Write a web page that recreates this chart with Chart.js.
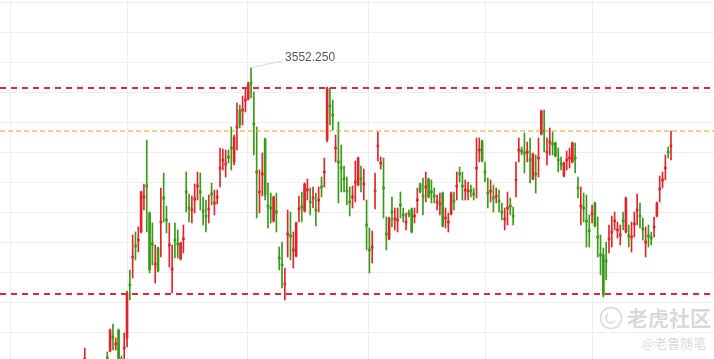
<!DOCTYPE html>
<html>
<head>
<meta charset="utf-8">
<script src="https://cdn.jsdelivr.net/npm/chart.js@4.4.0/dist/chart.umd.min.js"></script>
<style>
  html, body { margin: 0; padding: 0; background: #fff; }
  #kline { display: block; }
</style>
</head>
<body>
<canvas id="kline" width="714" height="359"></canvas>
<script>
// candle values, first candle is number -8, then 7 candles hidden below the view
var opens = [3260, null, null, null, null, null, null, null,
  3263, 3269, 3284, 3275, 3290, 3261, 3271, 3282, 3336, 3362,
  3375, 3379, 3388, 3422, 3435, 3407, 3377, 3355, 3372, 3397,
  3423, 3401, 3374, 3350, 3381, 3377, 3361, 3380, 3429, 3413,
  3409, 3420, 3433, 3429, 3410, 3405, 3410, 3427, 3416, 3422,
  3451, 3459, 3455, 3464, 3473, 3458, 3492, 3510, 3509, 3519,
  3521, 3538, 3497, 3449, 3427, 3445, 3481, 3415, 3413, 3399,
  3409, 3363, 3356, 3335, 3385, 3385, 3369, 3364, 3410, 3414,
  3409, 3429, 3419, 3421, 3411, 3419, 3434, 3447, 3480, 3515,
  3506, 3471, 3459, 3453, 3442, 3430, 3419, 3422, 3437, 3435,
  3442, 3435, 3396, 3371, 3372, 3428, 3473, 3456, 3433, 3387,
  3381, 3409, 3400, 3399, 3416, 3406, 3397, 3407, 3411, 3403,
  3419, 3436, 3425, 3432, 3441, 3429, 3425, 3417, 3415, 3427,
  3401, 3397, 3406, 3420, 3433, 3447, 3435, 3429, 3428, 3430,
  3427, 3451, 3469, 3479, 3449, 3428, 3428, 3423, 3423, 3420,
  3409, 3400, 3411, 3415, 3405, 3439, 3469, 3470, 3468, 3467,
  3461, 3441, 3447, 3461, 3486, 3490, 3467, 3477, 3477, 3477,
  3461, 3457, 3444, 3459, 3461, 3458, 3463, 3433, 3413, 3413,
  3400, 3390, 3405, 3417, 3384, 3366, 3365, 3360, 3380, 3387,
  3398, 3389, 3384, 3400, 3388, 3385, 3382, 3395, 3409, 3405,
  3392, 3377, 3385, 3383, 3392, 3404, 3430, 3439, 3451, 3469,
  3473];
var highs = [3272, null, null, null, null, null, null, null,
  3268, 3291, 3296, 3282, 3291, 3264, 3287, 3329, 3350, 3385,
  3388, 3393, 3429, 3436, 3480, 3408, 3397, 3375, 3373, 3432,
  3447, 3414, 3397, 3375, 3397, 3390, 3378, 3395, 3448, 3426,
  3424, 3436, 3448, 3447, 3423, 3420, 3425, 3437, 3430, 3430,
  3472, 3471, 3470, 3470, 3493, 3485, 3517, 3515, 3524, 3532,
  3538, 3552.25, 3528, 3493, 3450, 3467, 3482, 3437, 3427, 3424,
  3427, 3373, 3378, 3352, 3410, 3408, 3388, 3398, 3424, 3428,
  3437, 3441, 3432, 3433, 3427, 3433, 3443, 3462, 3533, 3532,
  3520, 3485, 3498, 3475, 3454, 3443, 3433, 3434, 3459, 3463,
  3454, 3451, 3420, 3392, 3389, 3447, 3488, 3463, 3462, 3403,
  3403, 3423, 3412, 3412, 3428, 3412, 3407, 3410, 3412, 3412,
  3432, 3437, 3442, 3448, 3442, 3440, 3432, 3425, 3427, 3428,
  3412, 3407, 3428, 3428, 3448, 3453, 3448, 3440, 3438, 3435,
  3432, 3482, 3482, 3480, 3458, 3442, 3440, 3435, 3432, 3430,
  3417, 3412, 3428, 3422, 3413, 3458, 3482, 3473, 3487, 3478,
  3482, 3467, 3465, 3482, 3510, 3510, 3482, 3492, 3488, 3478,
  3472, 3463, 3458, 3469, 3472, 3478, 3477, 3443, 3433, 3427,
  3425, 3405, 3415, 3418, 3403, 3385, 3372, 3378, 3395, 3404,
  3408, 3398, 3395, 3408, 3423, 3395, 3398, 3408, 3426, 3417,
  3402, 3393, 3395, 3388, 3403, 3418, 3444, 3448, 3465, 3473,
  3489];
var lows = [3250, null, null, null, null, null, null, null,
  3255, 3268, 3270, 3270, 3258, 3255, 3258, 3273, 3320, 3342,
  3360, 3368, 3387, 3410, 3388, 3347, 3355, 3337, 3348, 3363,
  3398, 3387, 3353, 3327, 3362, 3362, 3360, 3367, 3408, 3398,
  3397, 3407, 3420, 3410, 3395, 3388, 3397, 3415, 3405, 3416,
  3433, 3450, 3443, 3457, 3450, 3455, 3470, 3492, 3495, 3508,
  3520, 3522, 3465, 3402, 3407, 3424, 3420, 3392, 3397, 3398,
  3388, 3350, 3332, 3320, 3363, 3360, 3352, 3363, 3398, 3398,
  3408, 3420, 3405, 3412, 3394, 3408, 3423, 3433, 3478, 3495,
  3490, 3458, 3417, 3428, 3428, 3415, 3404, 3412, 3418, 3434,
  3428, 3420, 3370, 3347, 3357, 3411, 3459, 3451, 3402, 3370,
  3380, 3393, 3390, 3388, 3402, 3398, 3390, 3403, 3387, 3397,
  3407, 3427, 3405, 3418, 3422, 3417, 3417, 3410, 3405, 3393,
  3392, 3388, 3405, 3410, 3420, 3438, 3420, 3420, 3420, 3423,
  3420, 3422, 3458, 3458, 3438, 3412, 3418, 3408, 3417, 3408,
  3400, 3390, 3395, 3405, 3395, 3423, 3458, 3465, 3447, 3458,
  3437, 3440, 3427, 3443, 3485, 3468, 3455, 3465, 3465, 3463,
  3448, 3450, 3443, 3450, 3452, 3457, 3447, 3422, 3395, 3398,
  3373, 3373, 3397, 3393, 3363, 3345, 3323, 3340, 3367, 3373,
  3390, 3382, 3375, 3390, 3387, 3373, 3368, 3383, 3395, 3392,
  3380, 3363, 3373, 3375, 3383, 3403, 3418, 3432, 3440, 3462,
  3460];
var closes = [3262, null, null, null, null, null, null, null,
  3261, 3290, 3282, 3277, 3260, 3259, 3273, 3327, 3334, 3364,
  3373, 3381, 3428, 3424, 3433, 3350, 3375, 3357, 3349, 3399,
  3421, 3399, 3376, 3352, 3379, 3375, 3377, 3382, 3427, 3411,
  3411, 3422, 3435, 3427, 3408, 3403, 3412, 3425, 3418, 3424,
  3453, 3461, 3457, 3462, 3471, 3483, 3494, 3495, 3511, 3521,
  3536, 3536, 3495, 3447, 3429, 3447, 3425, 3413, 3411, 3423,
  3407, 3361, 3354, 3337, 3387, 3383, 3371, 3397, 3412, 3412,
  3436, 3431, 3417, 3423, 3409, 3421, 3432, 3449, 3532, 3513,
  3504, 3473, 3457, 3451, 3440, 3428, 3417, 3424, 3439, 3462,
  3440, 3437, 3394, 3369, 3374, 3430, 3475, 3458, 3431, 3385,
  3402, 3407, 3402, 3401, 3414, 3404, 3399, 3405, 3388, 3405,
  3421, 3428, 3423, 3434, 3423, 3427, 3423, 3419, 3417, 3394,
  3403, 3399, 3427, 3418, 3435, 3445, 3433, 3431, 3430, 3428,
  3425, 3453, 3471, 3459, 3447, 3426, 3430, 3421, 3425, 3418,
  3407, 3402, 3413, 3413, 3403, 3441, 3471, 3468, 3466, 3469,
  3459, 3466, 3445, 3463, 3509, 3488, 3469, 3479, 3475, 3464,
  3459, 3455, 3457, 3461, 3463, 3477, 3461, 3431, 3415, 3411,
  3398, 3388, 3407, 3394, 3382, 3364, 3325, 3358, 3382, 3389,
  3400, 3391, 3386, 3398, 3422, 3383, 3384, 3397, 3411, 3403,
  3390, 3379, 3383, 3381, 3394, 3417, 3432, 3441, 3453, 3467,
  3475];

// horizontal reference lines
var resistanceLevel = 3532;
var midLevel = 3489;
var supportLevel = 3326;

// gridline values
var priceGrid = [3617.5, 3587.5, 3557.5, 3527.5, 3497.5, 3467.5, 3437.5, 3407.5, 3377.5, 3347.5, 3317.5, 3287.5];
var timeGrid = [-34.5, 7, 49.67, 92.67, 134.36, 172.15];

var candleNo = opens.map(function (v, i) { return i - 8; });
var xMin = -38.07, xMax = 215.26;

var upColor = '#e0262b';
var downColor = '#3a9a18';

function candleColor(ctx) {
  var i = ctx.dataIndex;
  return closes[i] > opens[i] ? upColor : downColor;
}

var wicks = lows.map(function (l, i) { return l == null ? null : [l, highs[i]]; });
var bodies = opens.map(function (o, i) { return o == null ? null : [o, closes[i]]; });

function levelLine(val, color, width, dash) {
  return {
    type: 'line',
    data: [{ x: xMin, y: val }, { x: xMax, y: val }],
    borderColor: color,
    backgroundColor: color,
    borderWidth: width,
    borderDash: dash,
    pointRadius: 0,
    fill: false,
    order: -1
  };
}

var peakLabel = {
  id: 'peakLabel',
  afterDatasetsDraw: function (chart) {
    var ctx = chart.ctx;
    var top = Math.max.apply(null, highs.filter(function (v) { return v != null; }));
    var i = highs.indexOf(top);
    var px = chart.scales.x.getPixelForValue(candleNo[i]);
    var py = chart.scales.y.getPixelForValue(top);
    ctx.save();
    ctx.strokeStyle = '#d8d8d8';
    ctx.lineWidth = 1;
    ctx.beginPath();
    ctx.moveTo(px, py);
    ctx.lineTo(px + 32, py - 7);
    ctx.stroke();
    ctx.fillStyle = '#555';
    ctx.font = '12px "Liberation Sans", Arial, sans-serif';
    ctx.textBaseline = 'middle';
    ctx.fillText(top.toFixed(3), px + 34, py - 10);
    ctx.restore();
  }
};

var watermark = {
  id: 'watermark',
  afterDraw: function (chart) {
    var ctx = chart.ctx;
    ctx.save();
    ctx.strokeStyle = '#d9d9d9';
    ctx.lineWidth = 1.5;
    ctx.beginPath();
    ctx.arc(611, 318, 10.5, 0, Math.PI * 2);
    ctx.stroke();
    ctx.beginPath();
    ctx.arc(611, 318, 5, Math.PI * 0.2, Math.PI * 1.3);
    ctx.stroke();
    ctx.fillStyle = '#d9d9d9';
    ctx.font = 'bold 21px "Noto Sans CJK SC", sans-serif';
    ctx.textBaseline = 'middle';
    ctx.fillText('老虎社区', 627, 318);
    ctx.font = '13px "Noto Sans CJK SC", sans-serif';
    ctx.fillText('@老鲁随笔', 642, 343);
    ctx.restore();
  }
};

new Chart(document.getElementById('kline'), {
  type: 'bar',
  data: {
    labels: candleNo,
    datasets: [
      {
        data: wicks,
        backgroundColor: candleColor,
        barThickness: 1,
        grouped: false,
        borderWidth: 0
      },
      {
        data: bodies,
        backgroundColor: candleColor,
        barThickness: 2,
        grouped: false,
        borderWidth: 0,
        minBarLength: 1
      },
      levelLine(resistanceLevel, '#d92b3a', 2, [6, 5]),
      levelLine(midLevel, 'rgb(232, 160, 30)', 1, [5, 3]),
      levelLine(supportLevel, '#d92b3a', 2, [6, 5])
    ]
  },
  options: {
    responsive: false,
    animation: false,
    devicePixelRatio: 1,
    layout: { padding: 0 },
    plugins: { legend: { display: false }, tooltip: { enabled: false } },
    scales: {
      x: {
        type: 'linear',
        offset: false,
        min: xMin,
        max: xMax,
        grid: { color: '#eeeeee', drawTicks: false, offset: false },
        border: { display: false },
        ticks: { display: false },
        afterBuildTicks: function (s) { s.ticks = timeGrid.map(function (v) { return { value: v }; }); }
      },
      y: {
        min: 3261,
        max: 3620,
        grid: { color: '#eeeeee', drawTicks: false },
        border: { display: false },
        ticks: { display: false },
        afterBuildTicks: function (s) { s.ticks = priceGrid.map(function (v) { return { value: v }; }); }
      }
    }
  },
  plugins: [peakLabel, watermark]
});
</script>
</body>
</html>
